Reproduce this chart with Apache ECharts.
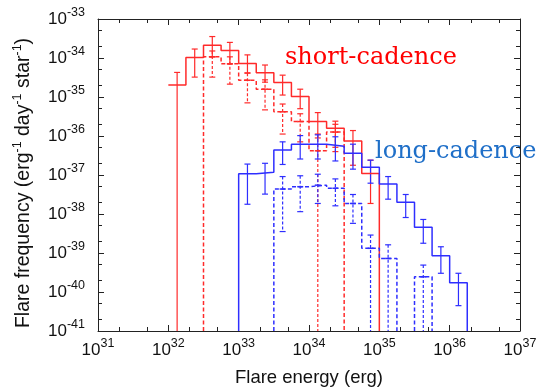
<!DOCTYPE html>
<html>
<head>
<meta charset="utf-8">
<script src="https://cdn.jsdelivr.net/npm/echarts@6/dist/echarts.min.js"></script>
<style>
  html, body { margin: 0; padding: 0; background: #fff; }
  #chart { width: 538px; height: 389px; }
</style>
</head>
<body>
<div id="chart"></div>
<script>
// every value is log10: energy in erg, frequency in erg^-1 day^-1 star^-1
// null in a Y array = empty bin (histogram drops to the bottom axis)
// null in a Lo array = lower error reaches zero (bar runs to the bottom axis)
const xTickExp = [31, 32, 33, 34, 35, 36, 37]
const yTickExp = [-41, -40, -39, -38, -37, -36, -35, -34, -33]
const minorMant = [2, 5]
const binHalf = 0.125

// short-cadence, all flares (red solid)
const scE  = [32.125, 32.375, 32.625, 32.875, 33.125, 33.375, 33.625, 33.875, 34.125, 34.375, 34.625, 34.875, 35.125]
const scY  = [-34.69, -33.99, -33.67, -33.81, -34.14, -34.38, -34.63, -34.99, -35.63, -35.80, -36.13, -36.96, null]
const scHi = [-34.37, -33.77, -33.45, -33.60, -33.92, -34.18, -34.44, -34.80, -35.40, -35.62, -35.86, -36.62, null]
const scLo = [null, -34.49, -33.97, -34.15, -34.38, -34.62, -34.95, -35.30, -36.05, -36.29, -36.75, -37.73, null]

// short-cadence, dashed
const scdE  = [32.375, 32.625, 32.875, 33.125, 33.375, 33.625, 33.875, 34.125, 34.375, 34.625]
const scdY  = [null, -33.97, -34.15, -34.57, -34.80, -35.38, -35.63, -36.38, -35.90, null]
const scdHi = [null, -33.82, -33.97, -34.39, -34.56, -35.18, -35.43, -35.95, -35.70, null]
const scdLo = [null, -34.49, -34.67, -35.15, -35.33, -35.95, -36.15, null, -36.40, null]

// long-cadence, all flares (blue solid)
const lcE  = [32.875, 33.125, 33.375, 33.625, 33.875, 34.125, 34.375, 34.625, 34.875, 35.125, 35.375, 35.625, 35.875, 36.125, 36.375]
const lcY  = [null, -36.97, -36.93, -36.36, -36.21, -36.21, -36.26, -36.44, -36.80, -37.23, -37.70, -38.34, -39.07, -39.76, null]
const lcHi = [null, -36.72, -36.70, -36.15, -35.99, -35.97, -36.02, -36.21, -36.62, -37.04, -37.50, -38.14, -38.84, -39.52, null]
const lcLo = [null, -37.75, -37.49, -36.73, -36.59, -36.59, -36.64, -36.85, -37.21, -37.62, -38.09, -38.75, -39.52, -40.35, null]

// long-cadence, dashed
const lcdE  = [33.375, 33.625, 33.875, 34.125, 34.375, 34.625, 34.875, 35.125, 35.375, 35.625, 35.875]
const lcdY  = [null, -37.36, -37.30, -37.26, -37.34, -37.73, -38.88, -39.14, null, -39.61, null]
const lcdHi = [null, -37.04, -37.02, -36.98, -37.10, -37.50, -38.54, -38.79, null, -39.31, null]
const lcdLo = [null, -38.45, -37.94, -37.73, -37.79, -38.24, null, null, null, null, null]

const RED = '#ff2a2a'
const BLUE = '#2e2eff'
const yFloor = yTickExp[0]

// histeps: horizontal run per bin, vertical joins, drop to floor at empty bins
function steps(E, Y) {
  let pts = []
  for (let i = 0; i < E.length; i++) {
    let l = E[i] - binHalf, r = E[i] + binHalf
    if (Y[i] == null) {
      if (i > 0 && Y[i - 1] != null) {
        pts.push([l, yFloor])
        pts.push([l, '-'])
      }
      continue
    }
    if (i > 0 && Y[i - 1] == null) pts.push([l, yFloor])
    pts.push([l, Y[i]], [r, Y[i]])
  }
  return pts
}

function errs(E, Y, Hi, Lo) {
  let res = []
  for (let i = 0; i < E.length; i++) {
    if (Y[i] == null) continue
    res.push([E[i], Lo[i] == null ? yFloor - 1 : Lo[i], Hi[i], Lo[i] == null ? 0 : 1, Y[i]])
  }
  return res
}

function errRender(dashed) {
  return function (params, api) {
    let e = api.value(0)
    let top = api.coord([e, api.value(2)])
    let bot = api.coord([e, api.value(1)])
    let mid = api.coord([e, api.value(4)])
    let w = 3
    let col = api.visual('color')
    let kids = [
      { type: 'line', shape: { x1: top[0], y1: top[1], x2: bot[0], y2: bot[1] }, style: { stroke: col, lineWidth: 1.2, lineDash: dashed ? [3, 2] : null } },
      { type: 'line', shape: { x1: top[0] - w, y1: top[1], x2: top[0] + w, y2: top[1] }, style: { stroke: col, lineWidth: 1.2 } }
    ]
    if (api.value(3)) {
      kids.push({ type: 'line', shape: { x1: bot[0] - w, y1: bot[1], x2: bot[0] + w, y2: bot[1] }, style: { stroke: col, lineWidth: 1.2 } })
    }
    if (dashed) {
      kids.push({ type: 'line', shape: { x1: mid[0] - w, y1: mid[1], x2: mid[0] + w, y2: mid[1] }, style: { stroke: col, lineWidth: 1.5 } })
    }
    return { type: 'group', children: kids }
  }
}

let minorX = [], minorY = []
xTickExp.slice(0, -1).forEach(function (d) {
  minorMant.forEach(function (m) { minorX.push(d + Math.log10(m)) })
})
yTickExp.slice(0, -1).forEach(function (d) {
  minorMant.forEach(function (m) { minorY.push(d + Math.log10(m)) })
})

const supRich = {
  b: { fontSize: 17, fontFamily: 'Liberation Sans', color: '#111', lineHeight: 26 },
  s: { fontSize: 12.5, fontFamily: 'Liberation Sans', color: '#111', lineHeight: 13, verticalAlign: 'top' }
}
const powLabel = function (v) { return '{b|10}{s|' + v + '}' }

function xAx(pos, labels, minor) {
  return {
    type: 'value', position: pos, min: xTickExp[0], max: xTickExp[xTickExp.length - 1], interval: 1,
    axisLine: { show: !minor, lineStyle: { color: '#222', width: 1 } },
    axisTick: minor
      ? { inside: true, length: 4, customValues: minorX, lineStyle: { color: '#222' } }
      : { inside: true, length: 6, lineStyle: { color: '#222' } },
    axisLabel: labels ? { show: true, formatter: powLabel, rich: supRich, margin: 6 } : { show: false },
    splitLine: { show: false },
    name: labels ? 'Flare energy (erg)' : '',
    nameLocation: 'middle', nameGap: 37,
    nameTextStyle: { fontSize: 18.5, fontFamily: 'Liberation Sans', color: '#111' }
  }
}

function yAx(pos, labels, minor) {
  return {
    type: 'value', position: pos, min: yTickExp[0], max: yTickExp[yTickExp.length - 1], interval: 1,
    axisLine: { show: !minor, lineStyle: { color: '#222', width: 1 } },
    axisTick: minor
      ? { inside: true, length: 4, customValues: minorY, lineStyle: { color: '#222' } }
      : { inside: true, length: 6, lineStyle: { color: '#222' } },
    axisLabel: labels ? { show: true, formatter: powLabel, rich: supRich, margin: 13 } : { show: false },
    splitLine: { show: false },
    name: labels ? '{n|Flare frequency (erg}{s|-1}{n| day}{s|-1}{n| star}{s|-1}{n|)}' : '',
    nameLocation: 'middle', nameGap: 61, nameRotate: 90,
    nameTextStyle: {
      padding: [0, 16, 0, 0],
      rich: {
        n: { fontSize: 19.5, fontFamily: 'Liberation Sans', color: '#111', lineHeight: 26 },
        s: { fontSize: 12.5, fontFamily: 'Liberation Sans', color: '#111', lineHeight: 12, verticalAlign: 'top' }
      }
    }
  }
}

function stepSeries(E, Y, color, dashed) {
  return {
    type: 'line', xAxisIndex: 0, yAxisIndex: 0, data: steps(E, Y),
    showSymbol: false, connectNulls: false, animation: false,
    lineStyle: { color: color, width: 1.5, type: dashed ? [4, 2.5] : 'solid' },
    itemStyle: { color: color }
  }
}

function errSeries(E, Y, Hi, Lo, color, dashed) {
  return {
    type: 'custom', xAxisIndex: 0, yAxisIndex: 0, clip: true,
    data: errs(E, Y, Hi, Lo), encode: { x: 0, y: [1, 2] },
    itemStyle: { color: color },
    renderItem: errRender(dashed)
  }
}

const chart = echarts.init(document.getElementById('chart'))
chart.setOption({
  animation: false,
  backgroundColor: '#fff',
  grid: { left: 98, right: 18, top: 19, bottom: 58, containLabel: false, outerBoundsMode: 'none' },
  xAxis: [xAx('bottom', true, false), xAx('bottom', false, true), xAx('top', false, false), xAx('top', false, true)],
  yAxis: [yAx('left', true, false), yAx('left', false, true), yAx('right', false, false), yAx('right', false, true)],
  series: [
    stepSeries(scE, scY, RED, false),
    stepSeries(scdE, scdY, RED, true),
    stepSeries(lcE, lcY, BLUE, false),
    stepSeries(lcdE, lcdY, BLUE, true),
    errSeries(scE, scY, scHi, scLo, RED, false),
    errSeries(scdE, scdY, scdHi, scdLo, RED, true),
    errSeries(lcE, lcY, lcHi, lcLo, BLUE, false),
    errSeries(lcdE, lcdY, lcdHi, lcdLo, BLUE, true)
  ],
  graphic: [
    { type: 'text', left: 285, top: 46, style: { text: 'short-cadence', fill: '#ff0000', font: '24px "DejaVu Serif"' } },
    { type: 'text', left: 375, top: 140, style: { text: 'long-cadence', fill: '#1f6fc8', font: '24px "DejaVu Serif"' } }
  ]
})
</script>
</body>
</html>
